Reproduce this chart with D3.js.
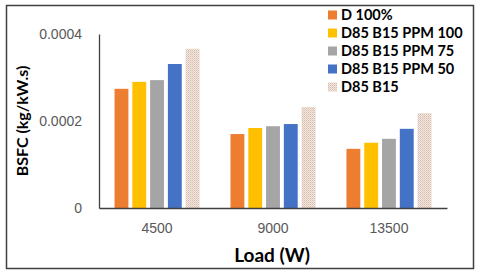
<!DOCTYPE html>
<html>
<head>
<meta charset="utf-8">
<script src="https://cdn.jsdelivr.net/npm/d3@7"></script>
<style>
  body { margin: 0; background: #fff; }
  svg { display: block; font-family: Lato, "Open Sans", sans-serif; }
</style>
</head>
<body>
<svg id="canvas" width="480" height="275"></svg>
<script>
const loads = ['4500', '9000', '13500']
const series = ['D 100%', 'D85 B15 PPM 100', 'D85 B15 PPM 75', 'D85 B15 PPM 50', 'D85 B15']
const d100 = [0.000274, 0.000170, 0.000136]
const ppm100 = [0.000290, 0.000184, 0.000150]
const ppm75 = [0.000294, 0.000188, 0.000159]
const ppm50 = [0.000331, 0.000193, 0.000182]
const b15 = [0.000366, 0.000232, 0.000218]
const yTicks = [0, 0.0002, 0.0004]
const colors = ['#ED7D31', '#FFC000', '#A5A5A5', '#4472C4', 'url(#hatch)']

const values = [d100, ppm100, ppm75, ppm50, b15]

let svg = d3.select('#canvas')

// hatch pattern for the last series
let defs = svg.append('defs')
let pat = defs.append('pattern')
    .attr('id', 'hatch')
    .attr('patternUnits', 'userSpaceOnUse')
    .attr('width', 2)
    .attr('height', 2)
pat.append('rect').attr('width', 2).attr('height', 2).attr('fill', '#f2e8e1')
pat.append('rect').attr('width', 1).attr('height', 1).attr('fill', '#d6bcab')
pat.append('rect').attr('x', 1).attr('y', 1).attr('width', 1).attr('height', 1).attr('fill', '#e2cdbf')

// outer frame
svg.append('rect')
    .attr('x', 6.5).attr('y', 5.5)
    .attr('width', 467).attr('height', 263)
    .attr('fill', 'none')
    .attr('stroke', '#404040')
    .attr('stroke-width', 1.5)

let x0 = d3.scaleBand().domain(loads).range([99, 447]).paddingInner(0.267).paddingOuter(0.134)
let x1 = d3.scaleBand().domain(series).range([0, x0.bandwidth()]).paddingInner(0.22)
let y = d3.scaleLinear().domain([0, 0.0004]).range([208, 34])

// bars
series.forEach((s, i) => {
    svg.append('g').selectAll('rect')
        .data(values[i])
        .enter()
        .append('rect')
        .attr('x', (d, j) => x0(loads[j]) + x1(s))
        .attr('y', d => y(d))
        .attr('width', x1.bandwidth())
        .attr('height', d => y(0) - y(d))
        .attr('fill', colors[i])
})

// axes
let xAxis = svg.append('g')
    .attr('transform', 'translate(0,208)')
    .call(d3.axisBottom(x0).tickSize(0).tickPadding(15))
xAxis.select('.domain').attr('stroke', '#404040').attr('stroke-width', 1.3)
xAxis.selectAll('text').attr('font-size', 14).attr('fill', '#595959')

let yAxis = svg.append('g')
    .attr('transform', 'translate(99,0)')
    .call(d3.axisLeft(y).tickValues(yTicks).tickSize(0).tickPadding(17)
        .tickFormat(d => d === 0 ? '0' : d3.format('.4f')(d)))
yAxis.select('.domain').attr('stroke', '#404040').attr('stroke-width', 1.3)
yAxis.selectAll('text').attr('font-size', 14).attr('fill', '#595959')

// axis titles
svg.append('text')
    .attr('x', 272).attr('y', 262)
    .attr('text-anchor', 'middle')
    .attr('font-size', 19).attr('font-weight', 'bold')
    .text('Load (W)')

svg.append('text')
    .attr('transform', 'translate(28,121) rotate(-90)')
    .attr('text-anchor', 'middle')
    .attr('font-size', 16).attr('font-weight', 'bold')
    .text('BSFC (kg/kW.s)')

// legend
let legend = svg.append('g').selectAll('g')
    .data(series)
    .enter()
    .append('g')
    .attr('transform', (d, i) => 'translate(328,' + (15 + i * 18) + ')')
legend.append('rect')
    .attr('x', 0).attr('y', -4.5)
    .attr('width', 9).attr('height', 9)
    .attr('fill', (d, i) => colors[i])
legend.append('text')
    .attr('x', 13).attr('y', 0)
    .attr('dy', '0.35em')
    .attr('font-size', 14.5).attr('font-weight', 'bold')
    .text(d => d)
</script>
</body>
</html>
